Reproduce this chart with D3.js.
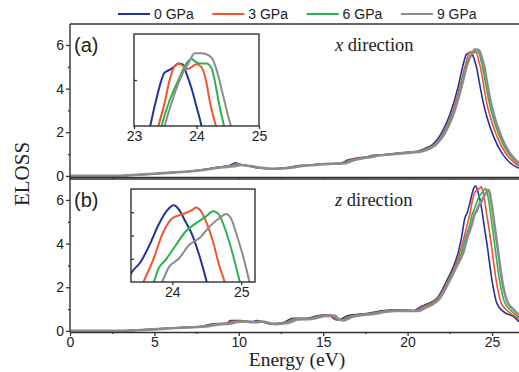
<!DOCTYPE html>
<html>
<head>
<meta charset="utf-8">
<script src="https://cdn.jsdelivr.net/npm/d3@7"></script>
<style>
  body { margin: 0; background: #fff; }
  svg { display: block; }
  text { font-family: Arial, "Liberation Sans", sans-serif; fill: #222; }
  .serif { font-family: "Times New Roman", "Liberation Serif", serif; }
  .axis path, .axis line { stroke: #333; stroke-width: 1.3; }
  .axis text { font-size: 14px; }
</style>
</head>
<body>
<svg width="519" height="372"></svg>
<script>
// pressures / legend
var pressures = ["0 GPa", "3 GPa", "6 GPa", "9 GPa"];
var colors = ["#23329c", "#f2542d", "#2db34b", "#8c8c8c"];
var energyTicks = [0, 5, 10, 15, 20, 25];
var energyMinor = [2.5, 7.5, 12.5, 17.5, 22.5];
var elossTicks = [0, 2, 4, 6];
var elossMinor = [1, 3, 5];

// x direction, [energy eV, ELOSS]
var xDir0 = [[0,0],[1,0],[2,0],[3,0.01],[4,0.05],[5,0.1],[6,0.15],[7,0.2],[8,0.3],[8.9,0.42],[9.4,0.46],[9.8,0.6],[10.1,0.52],[10.5,0.47],[11,0.38],[11.5,0.34],[12,0.33],[12.5,0.35],[13,0.4],[13.6,0.47],[14.2,0.5],[15,0.55],[15.5,0.56],[16,0.58],[16.5,0.74],[17,0.82],[17.5,0.86],[18,0.95],[18.5,0.97],[19.2,1.03],[20,1.08],[20.5,1.12],[21,1.25],[21.5,1.45],[22,1.95],[22.5,2.8],[23,4.1],
  [23.26,5.0],[23.36,5.3],[23.49,5.58],[23.57,5.61],[23.65,5.65],[23.71,5.68],[23.78,5.67],[23.84,5.57],[23.92,5.41],[24.0,5.21],[24.08,5.0],[24.2,4.5],[24.5,3.3],[24.7,2.7],[25.1,1.79],[25.6,1.03],[26.1,0.58],[26.6,0.35]];
var xDir3 = [[0,0],[1,0],[2,0],[3,0.01],[4,0.05],[5,0.1],[6,0.15],[7,0.2],[8,0.29],[8.9,0.41],[9.5,0.45],[9.9,0.55],[10.2,0.5],[10.6,0.46],[11.1,0.37],[11.6,0.34],[12.1,0.33],[12.6,0.35],[13.1,0.4],[13.7,0.47],[14.3,0.5],[15.1,0.55],[15.6,0.56],[16.1,0.58],[16.6,0.73],[17.1,0.81],[17.6,0.86],[18.1,0.94],[18.6,0.97],[19.3,1.02],[20.1,1.08],[20.6,1.12],[21.1,1.25],[21.6,1.45],[22.1,1.95],[22.6,2.8],[23.1,4.1],
  [23.39,5.0],[23.49,5.25],[23.57,5.5],[23.65,5.65],[23.72,5.68],[23.79,5.65],[23.85,5.62],[23.92,5.64],[24.0,5.67],[24.08,5.64],[24.15,5.5],[24.21,5.28],[24.27,5.1],[24.31,5.0],[24.45,4.4],[24.7,3.3],[24.9,2.7],[25.3,1.8],[25.8,1.05],[26.3,0.62],[26.6,0.45]];
var xDir6 = [[0,0],[1,0],[2,0],[3,0.01],[4,0.05],[5,0.1],[6,0.15],[7,0.2],[8,0.29],[9,0.41],[9.6,0.45],[10.0,0.52],[10.3,0.49],[10.7,0.45],[11.2,0.37],[11.7,0.34],[12.2,0.33],[12.7,0.35],[13.2,0.4],[13.8,0.47],[14.4,0.5],[15.2,0.55],[15.7,0.56],[16.2,0.58],[16.7,0.72],[17.2,0.8],[17.7,0.86],[18.2,0.94],[18.7,0.97],[19.4,1.02],[20.2,1.08],[20.7,1.12],[21.2,1.25],[21.65,1.45],[22.15,1.95],[22.65,2.8],[23.15,4.1],
  [23.44,5.0],[23.57,5.28],[23.71,5.5],[23.84,5.68],[23.92,5.73],[24.0,5.69],[24.08,5.68],[24.16,5.68],[24.24,5.63],[24.31,5.43],[24.37,5.21],[24.44,5.0],[24.58,4.4],[24.85,3.3],[25.05,2.7],[25.45,1.8],[25.95,1.05],[26.4,0.65],[26.6,0.52]];
var xDir9 = [[0,0],[1,0],[2,0],[3,0.01],[4,0.05],[5,0.1],[6,0.15],[7,0.2],[8,0.28],[9,0.4],[9.7,0.44],[10.1,0.5],[10.4,0.48],[10.8,0.44],[11.3,0.37],[11.8,0.34],[12.3,0.33],[12.8,0.35],[13.3,0.4],[13.9,0.47],[14.5,0.5],[15.3,0.55],[15.8,0.56],[16.3,0.58],[16.8,0.72],[17.3,0.8],[17.8,0.86],[18.3,0.94],[18.8,0.97],[19.5,1.02],[20.3,1.08],[20.8,1.12],[21.3,1.25],[21.7,1.45],[22.2,1.95],[22.7,2.8],[23.2,4.1],
  [23.49,5.0],[23.6,5.25],[23.73,5.5],[23.87,5.68],[23.97,5.79],[24.08,5.79],[24.19,5.77],[24.27,5.71],[24.35,5.54],[24.43,5.32],[24.51,5.1],[24.55,5.0],[24.68,4.4],[24.95,3.3],[25.15,2.7],[25.55,1.8],[26.05,1.05],[26.5,0.65],[26.6,0.58]];

// z direction
var zDir0 = [[0,0],[1,0],[2,0],[2.8,0],[4,0.04],[5,0.08],[6,0.13],[7,0.17],[7.7,0.2],[8.5,0.33],[9.29,0.35],[9.5,0.47],[10.1,0.47],[10.5,0.43],[10.87,0.43],[11.07,0.47],[11.86,0.32],[12.64,0.38],[13.2,0.58],[14.03,0.58],[14.92,0.73],[15.4,0.73],[15.6,0.58],[15.9,0.5],[16.4,0.68],[17.6,0.8],[18.97,0.95],[19.96,0.95],[20.35,0.92],[20.75,1.1],[21.14,1.23],[21.74,1.49],[22.33,2.32],[22.72,2.95],[23.0,3.6],[23.2,4.3],
  [23.39,5.16],[23.54,5.43],[23.68,5.83],[23.8,6.23],[23.93,6.55],[24.02,6.65],[24.1,6.55],[24.19,6.3],[24.29,6.01],[24.39,5.58],[24.46,5.22],[24.5,5.0],[24.7,4.0],[25.0,2.32],[25.29,1.26],[25.68,0.88],[26.28,0.65],[26.6,0.42]];
var zDir3 = [[0,0],[1,0],[2,0],[2.9,0],[4,0.04],[5,0.08],[6,0.13],[7,0.17],[7.8,0.2],[8.6,0.32],[9.4,0.35],[9.6,0.44],[10.2,0.45],[10.6,0.42],[10.95,0.42],[11.15,0.45],[11.95,0.32],[12.7,0.37],[13.3,0.55],[14.1,0.57],[15.0,0.71],[15.5,0.71],[15.7,0.57],[16.0,0.49],[16.5,0.66],[17.7,0.79],[19.05,0.93],[20.05,0.94],[20.45,0.92],[20.85,1.08],[21.25,1.22],[21.8,1.49],[22.4,2.32],[22.8,2.95],[23.1,3.6],[23.35,4.3],
  [23.58,5.0],[23.73,5.51],[23.85,6.01],[24.0,6.37],[24.15,6.46],[24.29,6.55],[24.34,6.6],[24.39,6.57],[24.49,6.3],[24.59,5.87],[24.68,5.36],[24.76,5.0],[24.95,4.0],[25.25,2.3],[25.55,1.26],[25.95,0.9],[26.6,0.55]];
var zDir6 = [[0,0],[1,0],[2,0],[3,0],[4,0.03],[5,0.07],[6,0.12],[7,0.16],[7.9,0.2],[8.7,0.31],[9.5,0.34],[9.7,0.42],[10.3,0.44],[10.7,0.41],[11.05,0.41],[11.25,0.44],[12.05,0.32],[12.8,0.37],[13.4,0.54],[14.2,0.56],[15.1,0.7],[15.6,0.7],[15.8,0.56],[16.1,0.49],[16.6,0.65],[17.8,0.78],[19.15,0.92],[20.15,0.93],[20.55,0.92],[20.95,1.07],[21.35,1.21],[21.85,1.49],[22.45,2.32],[22.85,2.95],[23.2,3.6],[23.45,4.3],
  [23.73,5.0],[23.8,5.29],[23.9,5.47],[24.05,5.79],[24.19,6.08],[24.34,6.26],[24.49,6.41],[24.59,6.52],[24.66,6.48],[24.78,6.08],[24.88,5.58],[24.98,5.0],[25.15,4.0],[25.45,2.3],[25.75,1.3],[26.1,0.95],[26.6,0.62]];
var zDir9 = [[0,0],[1,0],[2,0],[3,0],[4,0.03],[5,0.07],[6,0.12],[7,0.16],[8,0.2],[8.8,0.3],[9.6,0.34],[9.8,0.4],[10.4,0.43],[10.8,0.4],[11.15,0.4],[11.35,0.43],[12.15,0.31],[12.9,0.36],[13.5,0.53],[14.3,0.55],[15.2,0.69],[15.7,0.69],[15.9,0.55],[16.2,0.48],[16.7,0.64],[17.9,0.77],[19.25,0.91],[20.25,0.92],[20.65,0.91],[21.05,1.06],[21.45,1.2],[21.9,1.49],[22.5,2.32],[22.9,2.95],[23.3,3.6],[23.55,4.3],
  [23.85,5.0],[23.95,5.32],[24.1,5.51],[24.24,5.79],[24.39,5.94],[24.54,6.19],[24.68,6.37],[24.78,6.46],[24.85,6.37],[24.95,5.94],[25.05,5.43],[25.12,5.0],[25.3,4.0],[25.6,2.3],[25.9,1.35],[26.25,1.0],[26.6,0.72]];

var svg = d3.select("svg");

var x = d3.scaleLinear().domain([0, 26.6]).range([70, 519]);

var panels = [
  {id: "a", series: [xDir0, xDir3, xDir6, xDir9], top: 24, bottom: 177, tag: "(a)", dir: "x",
   inset: {left: 134, right: 259, top: 34, bottom: 126, xDom: [23, 25], yDom: [5, 6], xTicks: [23, 24, 25], yTicks: [5.5]}},
  {id: "b", series: [zDir0, zDir3, zDir6, zDir9], top: 179, bottom: 332, tag: "(b)", dir: "z",
   inset: {left: 131, right: 255, top: 189, bottom: 282, xDom: [23.4, 25.2], yDom: [5, 7], xTicks: [24, 25], yTicks: [5.5, 6, 6.5]}}
];

var widths = [1.6, 1.6, 1.6, 2.6];

panels.forEach(function(p, pi){
  var y = d3.scaleLinear().domain([-0.05, 6.96]).range([p.bottom, p.top]);

  svg.append("clipPath").attr("id", "clip" + p.id)
    .append("rect").attr("x", 70).attr("y", p.top).attr("width", 449).attr("height", p.bottom - p.top);

  var line = d3.line()
    .x(function(d){ return x(d[0]); })
    .y(function(d){ return y(d[1]); })
    .curve(d3.curveMonotoneX);

  var g = svg.append("g").attr("clip-path", "url(#clip" + p.id + ")");
  g.selectAll("path")
    .data(p.series)
    .enter()
    .append("path")
    .attr("d", line)
    .style("fill", "none")
    .style("stroke", function(d, i){ return colors[i]; })
    .style("stroke-width", function(d, i){ return widths[i]; });

  // top border
  svg.append("line").attr("x1", 70).attr("x2", 519).attr("y1", p.top).attr("y2", p.top)
    .style("stroke", "#333").style("stroke-width", 1.4);

  // y axis
  svg.append("g").attr("class", "axis").attr("transform", "translate(70,0)")
    .call(d3.axisLeft(y).tickValues(elossTicks).tickSize(4).tickPadding(2).tickFormat(d3.format("d")))
    .call(function(s){ s.select(".domain").remove(); });
  svg.append("g").attr("class", "axis").attr("transform", "translate(70,0)")
    .call(d3.axisLeft(y).tickValues(elossMinor).tickSize(2).tickFormat(""))
    .call(function(s){ s.select(".domain").remove(); });

  // x axis
  svg.append("g").attr("class", "axis").attr("transform", "translate(0," + p.bottom + ")")
    .call(d3.axisBottom(x).tickValues(energyTicks).tickSize(pi === 0 ? 2 : 4).tickSizeOuter(0).tickPadding(1)
      .tickFormat(pi === 0 ? "" : d3.format("d")));
  svg.append("g").attr("class", "axis").attr("transform", "translate(0," + p.bottom + ")")
    .call(d3.axisBottom(x).tickValues(energyMinor).tickSize(2).tickFormat(""))
    .call(function(s){ s.select(".domain").remove(); });

  svg.append("text").attr("x", 74).attr("y", p.top + 28).style("font-size", "20px").text(p.tag);

  var dt = svg.append("text").attr("class", "serif").attr("x", 335).attr("y", p.top + 27).style("font-size", "18.5px");
  dt.append("tspan").style("font-style", "italic").text(p.dir);
  dt.append("tspan").text(" direction");

  // inset
  var ins = p.inset;
  var ix = d3.scaleLinear().domain(ins.xDom).range([ins.left, ins.right]);
  var iy = d3.scaleLinear().domain(ins.yDom).range([ins.bottom, ins.top]);
  svg.append("rect").attr("x", ins.left).attr("y", ins.top)
    .attr("width", ins.right - ins.left).attr("height", ins.bottom - ins.top)
    .style("fill", "#fff");
  svg.append("clipPath").attr("id", "iclip" + p.id)
    .append("rect").attr("x", ins.left).attr("y", ins.top)
    .attr("width", ins.right - ins.left).attr("height", ins.bottom - ins.top);
  var iline = d3.line()
    .x(function(d){ return ix(d[0]); })
    .y(function(d){ return iy(d[1]); })
    .curve(d3.curveMonotoneX);
  svg.append("g").attr("clip-path", "url(#iclip" + p.id + ")")
    .selectAll("path")
    .data(p.series)
    .enter()
    .append("path")
    .attr("d", iline)
    .style("fill", "none")
    .style("stroke", function(d, i){ return colors[i]; })
    .style("stroke-width", 2);
  svg.append("rect").attr("x", ins.left).attr("y", ins.top)
    .attr("width", ins.right - ins.left).attr("height", ins.bottom - ins.top)
    .style("fill", "none").style("stroke", "#222").style("stroke-width", 1.3);
  svg.append("g").attr("class", "axis").attr("transform", "translate(0," + ins.bottom + ")")
    .call(d3.axisBottom(ix).tickValues(ins.xTicks).tickSize(3).tickPadding(2).tickFormat(d3.format("d")))
    .call(function(s){ s.select(".domain").remove(); });
  svg.append("g").attr("class", "axis").attr("transform", "translate(" + ins.left + ",0)")
    .call(d3.axisRight(iy).tickValues(ins.yTicks).tickSize(3).tickFormat(""))
    .call(function(s){ s.select(".domain").remove(); });
});

// left axis line
svg.append("line").attr("x1", 70).attr("x2", 70).attr("y1", 24).attr("y2", 332)
  .style("stroke", "#333").style("stroke-width", 1.4);

// legend
var lg = svg.selectAll(".lg")
  .data(pressures)
  .enter()
  .append("g")
  .attr("class", "lg")
  .attr("transform", function(d, i){ return "translate(" + (118 + i * 94.3) + ",14)"; });
lg.append("line").attr("x1", 0).attr("x2", 32)
  .style("stroke", function(d, i){ return colors[i]; })
  .style("stroke-width", 2);
lg.append("text").attr("x", 36).attr("y", 5).style("font-size", "14px").text(function(d){ return d; });

// axis titles
svg.append("text").attr("class", "serif").attr("x", 297).attr("y", 366)
  .attr("text-anchor", "middle").style("font-size", "19.5px").text("Energy (eV)");
svg.append("text").attr("class", "serif")
  .attr("transform", "translate(29,174) rotate(-90)")
  .attr("text-anchor", "middle").style("font-size", "21px").text("ELOSS");
</script>
</body>
</html>
